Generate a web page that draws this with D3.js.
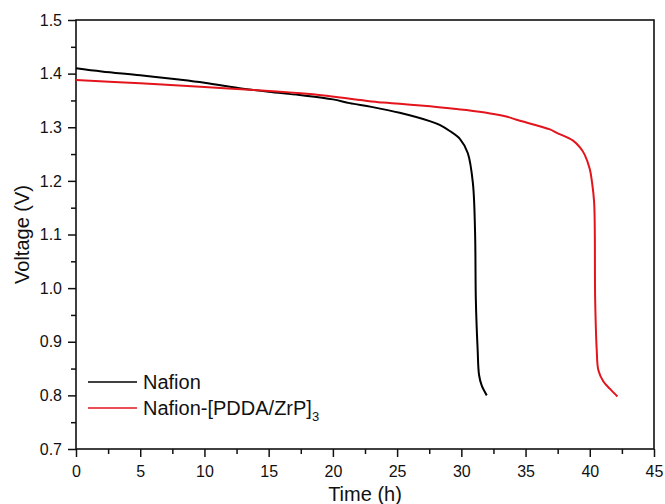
<!DOCTYPE html>
<html>
<head>
<meta charset="utf-8">
<script src="https://cdn.jsdelivr.net/npm/d3@7"></script>
<style>
body { margin: 0; background: #fff; }
text { font-family: "Liberation Sans", Arial, sans-serif; fill: #111; }
</style>
</head>
<body>
<svg id="chart"></svg>
<script>
// Nafion (black)
var nafionTime = [0, 2, 5, 8, 10, 13, 15, 17.4, 20, 21.3, 23, 25.2, 27.6, 28.35, 29.1, 29.9, 30.5, 30.9, 31.07, 31.13, 31.27, 31.38, 31.59, 31.98];
var nafionVolt = [1.410, 1.404, 1.397, 1.389, 1.383, 1.372, 1.366, 1.360, 1.352, 1.345, 1.338, 1.327, 1.311, 1.304, 1.293, 1.278, 1.252, 1.196, 1.103, 0.978, 0.885, 0.838, 0.818, 0.800];

// Nafion-[PDDA/ZrP]3 (red)
var zrpTime = [0, 5, 10, 13.55, 18.2, 23.9, 25.2, 30.4, 33.5, 34.3, 36.9, 37.4, 38.7, 39.25, 39.6, 40.0, 40.16, 40.34, 40.42, 40.54, 40.67, 41.06, 41.58, 42.15];
var zrpVolt = [1.388, 1.382, 1.375, 1.370, 1.362, 1.346, 1.344, 1.332, 1.320, 1.314, 1.296, 1.290, 1.275, 1.262, 1.249, 1.222, 1.200, 1.160, 0.978, 0.885, 0.847, 0.826, 0.812, 0.798];

var xTicks = [0, 5, 10, 15, 20, 25, 30, 35, 40, 45];
var yTicks = [0.7, 0.8, 0.9, 1.0, 1.1, 1.2, 1.3, 1.4, 1.5];

var dims = { width: 665, height: 504, left: 76, right: 654, top: 20, bottom: 449 };

var svg = d3.select('#chart').attr('width', dims.width).attr('height', dims.height);

var x = d3.scaleLinear().domain([0, 45]).range([dims.left, dims.right]);
var y = d3.scaleLinear().domain([0.7, 1.5]).range([dims.bottom, dims.top]);

// minor ticks
var xMinor = d3.range(2.5, 45, 5);
var yMinor = d3.range(0.75, 1.5, 0.1);

svg.append('g')
	.attr('transform', 'translate(0,' + dims.bottom + ')')
	.call(d3.axisBottom(x).tickValues(xMinor).tickSize(5).tickFormat(''))
	.call(g => g.select('.domain').remove())
	.selectAll('line').attr('stroke', '#111').attr('stroke-width', 1.5);

svg.append('g')
	.attr('transform', 'translate(' + dims.left + ',0)')
	.call(d3.axisLeft(y).tickValues(yMinor).tickSize(5).tickFormat(''))
	.call(g => g.select('.domain').remove())
	.selectAll('line').attr('stroke', '#111').attr('stroke-width', 1.5);

var xAxis = svg.append('g')
	.attr('transform', 'translate(0,' + dims.bottom + ')')
	.call(d3.axisBottom(x).tickValues(xTicks).tickSize(8).tickPadding(9).tickFormat(d3.format('d')));
xAxis.select('.domain').remove();
xAxis.selectAll('line').attr('stroke', '#111').attr('stroke-width', 1.5);
xAxis.selectAll('text').attr('font-size', 16).attr('font-family', '"Liberation Sans", Arial, sans-serif').attr('fill', '#111');

var yAxis = svg.append('g')
	.attr('transform', 'translate(' + dims.left + ',0)')
	.call(d3.axisLeft(y).tickValues(yTicks).tickSize(8).tickPadding(6).tickFormat(d3.format('.1f')));
yAxis.select('.domain').remove();
yAxis.selectAll('line').attr('stroke', '#111').attr('stroke-width', 1.5);
yAxis.selectAll('text').attr('font-size', 16).attr('font-family', '"Liberation Sans", Arial, sans-serif').attr('fill', '#111');

// frame
svg.append('rect')
	.attr('x', dims.left)
	.attr('y', dims.top)
	.attr('width', dims.right - dims.left)
	.attr('height', dims.bottom - dims.top)
	.attr('fill', 'none')
	.attr('stroke', '#111')
	.attr('stroke-width', 1.6);

var line = d3.line()
	.x(d => x(d[0]))
	.y(d => y(d[1]))
	.curve(d3.curveCatmullRom.alpha(0.5));

var series = [
	{ name: 'Nafion', color: '#000', pts: d3.zip(nafionTime, nafionVolt) },
	{ name: 'Nafion-[PDDA/ZrP]', sub: '3', color: '#e3141c', pts: d3.zip(zrpTime, zrpVolt) }
];

svg.selectAll('path.series')
	.data(series)
	.enter()
	.append('path')
		.attr('class', 'series')
		.attr('d', d => line(d.pts))
		.attr('fill', 'none')
		.attr('stroke', d => d.color)
		.attr('stroke-width', 2);

// legend
var legend = svg.append('g').attr('transform', 'translate(88,382)');
series.forEach(function(s, i) {
	var row = legend.append('g').attr('transform', 'translate(0,' + (i * 26) + ')');
	row.append('line')
		.attr('x1', 0).attr('x2', 49)
		.attr('y1', 0).attr('y2', 0)
		.attr('stroke', s.color)
		.attr('stroke-width', 1.5);
	var t = row.append('text')
		.attr('x', 55)
		.attr('y', 7)
		.attr('font-size', 20);
	t.append('tspan').text(s.name);
	if (s.sub) {
		t.append('tspan').attr('font-size', 13).attr('dy', 6).text(s.sub);
	}
});

// axis titles
svg.append('text')
	.attr('text-anchor', 'middle')
	.attr('x', (dims.left + dims.right) / 2)
	.attr('y', 501)
	.attr('font-size', 20)
	.text('Time (h)');

svg.append('text')
	.attr('text-anchor', 'middle')
	.attr('transform', 'translate(29,' + ((dims.top + dims.bottom) / 2) + ') rotate(-90)')
	.attr('font-size', 20)
	.text('Voltage (V)');
</script>
</body>
</html>
